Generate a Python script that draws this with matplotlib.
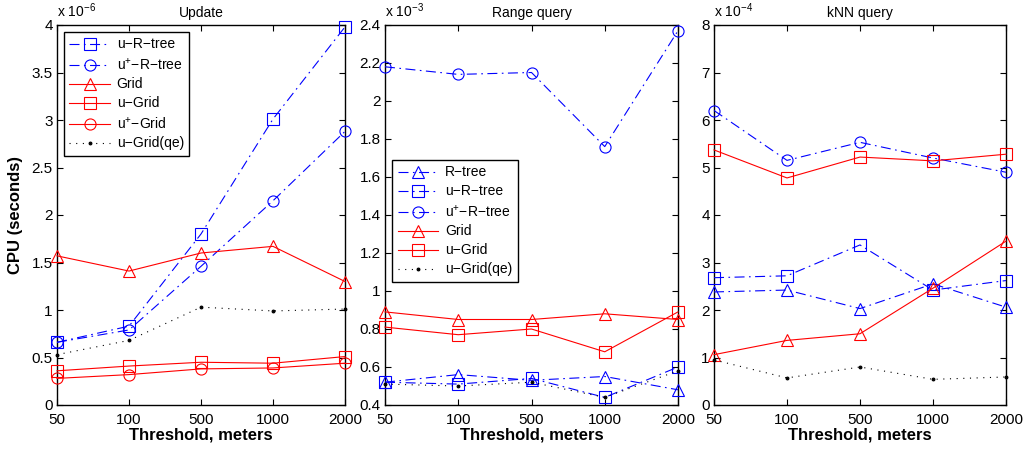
import matplotlib
matplotlib.use("Agg")
import matplotlib.pyplot as plt

plt.rcParams['font.family'] = ['Liberation Sans', 'DejaVu Sans']
plt.rcParams['mathtext.fontset'] = 'custom'
plt.rcParams['mathtext.rm'] = 'Liberation Sans'

thresholds = ['50', '100', '500', '1000', '2000']
xs = list(range(len(thresholds)))

# Update (x 1e-6)
upd_u_rtree = [0.66, 0.83, 1.80, 3.01, 3.98]
upd_up_rtree = [0.66, 0.79, 1.46, 2.15, 2.88]
upd_grid = [1.57, 1.41, 1.60, 1.67, 1.30]
upd_u_grid = [0.36, 0.41, 0.45, 0.44, 0.51]
upd_up_grid = [0.28, 0.32, 0.38, 0.39, 0.44]
upd_u_grid_qe = [0.53, 0.68, 1.03, 0.99, 1.01]

# Range query (x 1e-3)
rng_rtree = [0.52, 0.56, 0.53, 0.55, 0.48]
rng_u_rtree = [0.52, 0.51, 0.54, 0.44, 0.60]
rng_up_rtree = [2.18, 2.14, 2.15, 1.76, 2.37]
rng_grid = [0.89, 0.85, 0.85, 0.88, 0.85]
rng_u_grid = [0.81, 0.77, 0.80, 0.68, 0.89]
rng_u_grid_qe = [0.51, 0.50, 0.52, 0.44, 0.58]

# kNN query (x 1e-4)
knn_rtree = [2.38, 2.42, 2.03, 2.55, 2.06]
knn_u_rtree = [2.68, 2.72, 3.37, 2.42, 2.62]
knn_up_rtree = [6.20, 5.15, 5.53, 5.20, 4.90]
knn_grid = [1.06, 1.36, 1.50, 2.46, 3.45]
knn_u_grid = [5.37, 4.78, 5.22, 5.14, 5.28]
knn_u_grid_qe = [0.95, 0.57, 0.80, 0.54, 0.59]

ms = 8
lw = 0.8
dashdot = (0, (9, 4, 1.5, 4))
styles = {
    'R-tree': dict(color='b', ls=dashdot, marker='^'),
    'u-R-tree': dict(color='b', ls=dashdot, marker='s'),
    'u+-R-tree': dict(color='b', ls=dashdot, marker='o'),
    'Grid': dict(color='r', ls='-', marker='^'),
    'u-Grid': dict(color='r', ls='-', marker='s'),
    'u+-Grid': dict(color='r', ls='-', marker='o'),
    'u-Grid(qe)': dict(color='k', ls=(0, (1, 5)), marker='.'),
}
labels = {
    'R-tree': 'R\u2212tree',
    'u-R-tree': 'u\u2212R\u2212tree',
    'u+-R-tree': 'u$^{+}$\u2212R\u2212tree',
    'Grid': 'Grid',
    'u-Grid': 'u\u2212Grid',
    'u+-Grid': 'u$^{+}$\u2212Grid',
    'u-Grid(qe)': 'u\u2212Grid(qe)',
}


def draw(ax, name, ys):
    st = styles[name]
    m = st['marker']
    ax.plot(xs, ys, color=st['color'], linestyle=st['ls'], marker=m,
            markersize=(ms if m != '.' else 4), markerfacecolor='none' if m != '.' else 'k',
            markeredgecolor=st['color'], markeredgewidth=0.8, linewidth=lw,
            label=labels[name], clip_on=False, zorder=3)


def setup(ax, title, ylim, yticks, ytick_labels, exp):
    ax.set_xlim(0, 4)
    ax.set_ylim(*ylim)
    ax.set_xticks(xs)
    ax.set_xticklabels(thresholds)
    ax.set_yticks(yticks)
    ax.set_yticklabels(ytick_labels)
    ax.tick_params(direction='in', top=True, right=True, labelsize=11, length=4, pad=3)
    ax.tick_params(axis='x', pad=6)
    ax.set_title(title, fontsize=10, pad=6)
    ax.set_xlabel('Threshold, meters', fontsize=12, fontweight='bold', labelpad=0)
    ax.text(0.0, 1.012, r'x 10$^{%d}$' % exp, transform=ax.transAxes, fontsize=10,
            ha='left', va='bottom')
    for s in ax.spines.values():
        s.set_linewidth(1.0)


def legend(ax, top):
    leg = ax.legend(loc='upper left', bbox_to_anchor=(0.024, top), borderaxespad=0,
                    fontsize=10, fancybox=False, edgecolor='k', framealpha=1,
                    handlelength=2.9, borderpad=0.4, labelspacing=0.36, handletextpad=0.5)
    leg.get_frame().set_linewidth(1.0)


fig = plt.figure(figsize=(10.26, 4.5), dpi=100)
ax1 = fig.add_axes([57 / 1026, 45 / 450, 288 / 1026, 380 / 450])
ax2 = fig.add_axes([385 / 1026, 45 / 450, 293 / 1026, 380 / 450])
ax3 = fig.add_axes([714 / 1026, 45 / 450, 292 / 1026, 380 / 450])

# Update
for name, ys in [('u-R-tree', upd_u_rtree), ('u+-R-tree', upd_up_rtree), ('Grid', upd_grid),
                 ('u-Grid', upd_u_grid), ('u+-Grid', upd_up_grid), ('u-Grid(qe)', upd_u_grid_qe)]:
    draw(ax1, name, ys)
yt1 = [0, 0.5, 1, 1.5, 2, 2.5, 3, 3.5, 4]
setup(ax1, 'Update', (0, 4), yt1, ['0', '0.5', '1', '1.5', '2', '2.5', '3', '3.5', '4'], -6)
ax1.set_ylabel('CPU (seconds)', fontsize=12, fontweight='bold', labelpad=6)
legend(ax1, 0.982)

# Range query
for name, ys in [('R-tree', rng_rtree), ('u-R-tree', rng_u_rtree), ('u+-R-tree', rng_up_rtree),
                 ('Grid', rng_grid), ('u-Grid', rng_u_grid), ('u-Grid(qe)', rng_u_grid_qe)]:
    draw(ax2, name, ys)
yt2 = [0.4, 0.6, 0.8, 1.0, 1.2, 1.4, 1.6, 1.8, 2.0, 2.2, 2.4]
setup(ax2, 'Range query', (0.4, 2.4), yt2,
      ['0.4', '0.6', '0.8', '1', '1.2', '1.4', '1.6', '1.8', '2', '2.2', '2.4'], -3)
legend(ax2, 0.645)

# kNN query
for name, ys in [('R-tree', knn_rtree), ('u-R-tree', knn_u_rtree), ('u+-R-tree', knn_up_rtree),
                 ('Grid', knn_grid), ('u-Grid', knn_u_grid), ('u-Grid(qe)', knn_u_grid_qe)]:
    draw(ax3, name, ys)
yt3 = [0, 1, 2, 3, 4, 5, 6, 7, 8]
setup(ax3, 'kNN query', (0, 8), yt3, [str(v) for v in yt3], -4)

fig.savefig('out.png', dpi=100)
